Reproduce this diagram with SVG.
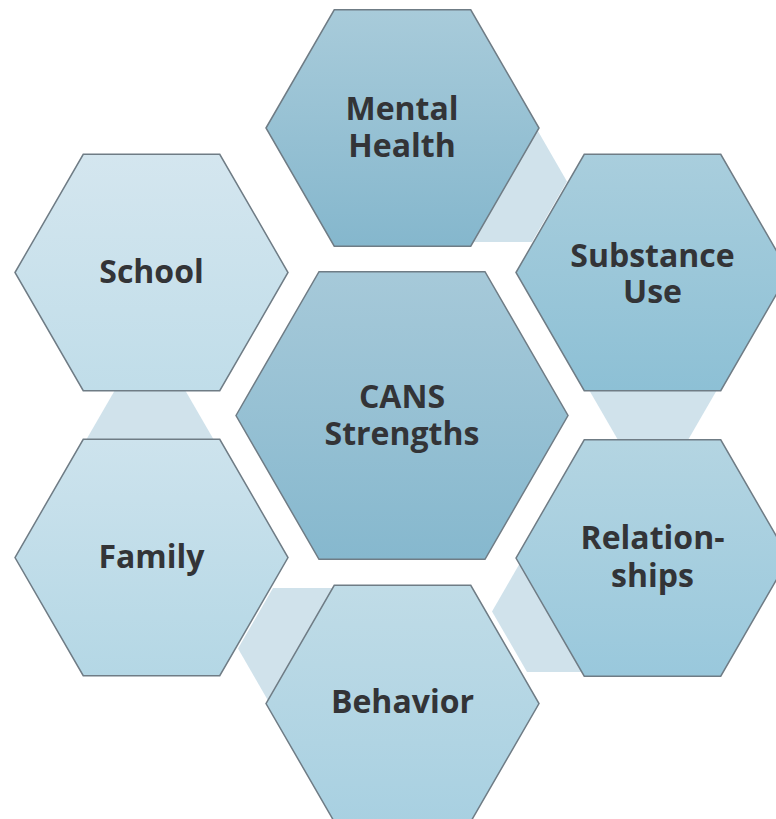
<svg xmlns="http://www.w3.org/2000/svg" width="776" height="819" viewBox="0 0 776 819">
  <defs>
    <linearGradient id="gMH" x1="0" y1="0" x2="0" y2="1"><stop offset="0" stop-color="#a8cbda"/><stop offset="1" stop-color="#85b7cd"/></linearGradient>
    <linearGradient id="gCANS" x1="0" y1="0" x2="0" y2="1"><stop offset="0" stop-color="#a6c9d9"/><stop offset="1" stop-color="#86b8ce"/></linearGradient>
    <linearGradient id="gSU" x1="0" y1="0" x2="0" y2="1"><stop offset="0" stop-color="#a9cedd"/><stop offset="1" stop-color="#8dc0d5"/></linearGradient>
    <linearGradient id="gRel" x1="0" y1="0" x2="0" y2="1"><stop offset="0" stop-color="#b4d5e2"/><stop offset="1" stop-color="#99c8dc"/></linearGradient>
    <linearGradient id="gBeh" x1="0" y1="0" x2="0" y2="1"><stop offset="0" stop-color="#c0dce7"/><stop offset="1" stop-color="#a8d0e1"/></linearGradient>
    <linearGradient id="gFam" x1="0" y1="0" x2="0" y2="1"><stop offset="0" stop-color="#cde3ed"/><stop offset="1" stop-color="#b4d7e5"/></linearGradient>
    <linearGradient id="gSch" x1="0" y1="0" x2="0" y2="1"><stop offset="0" stop-color="#d4e6ef"/><stop offset="1" stop-color="#c0dde9"/></linearGradient>
  </defs>
  <style>
    .hex { stroke: #6f7c85; stroke-width: 1.5; stroke-linejoin: miter; }
    .conn { fill: #d0e2eb; stroke: none; }
    .lbl { font-family: "Open Sans", Lato, "DejaVu Sans", sans-serif; font-weight: 700; font-size: 32px; fill: #333437; text-anchor: middle; }
  </style>
  <rect width="776" height="819" fill="#ffffff"/>
  <g id="connectors">
    <polygon class="conn" points="427,181.4 462,120.8 532,120.8 567,181.4 532,242 462,242"/>
    <polygon class="conn" points="583,379.4 618,318.8 688,318.8 723,379.4 688,440 618,440"/>
    <polygon class="conn" points="492,611.4 527,550.8 597,550.8 632,611.4 597,672 527,672"/>
    <polygon class="conn" points="238,648.6 273,588 343,588 378,648.6 343,709.2 273,709.2"/>
    <polygon class="conn" points="80,450.6 115,390 185,390 220,450.6 185,511.2 115,511.2"/>
  </g>
  <g id="mental-health">
    <polygon class="hex" fill="url(#gMH)" points="266,128 334.25,9.8 470.75,9.8 539,128 470.75,246.2 334.25,246.2"/>
    <text class="lbl" x="402" y="120"><tspan x="402">Mental</tspan><tspan x="402" dy="37">Health</tspan></text>
  </g>
  <g id="substance-use">
    <polygon class="hex" fill="url(#gSU)" points="516,272.5 584.25,154.3 720.75,154.3 789,272.5 720.75,390.7 584.25,390.7"/>
    <text class="lbl" x="652.5" y="267"><tspan x="652.5">Substance</tspan><tspan x="652.5" dy="36">Use</tspan></text>
  </g>
  <g id="relationships">
    <polygon class="hex" fill="url(#gRel)" points="516,558 584.25,439.8 720.75,439.8 789,558 720.75,676.2 584.25,676.2"/>
    <text class="lbl" x="652.5" y="549"><tspan x="652.5">Relation-</tspan><tspan x="652.5" dy="38">ships</tspan></text>
  </g>
  <g id="behavior">
    <polygon class="hex" fill="url(#gBeh)" points="266,703.5 334.25,585.3 470.75,585.3 539,703.5 470.75,821.7 334.25,821.7"/>
    <text class="lbl" x="402.5" y="713">Behavior</text>
  </g>
  <g id="family">
    <polygon class="hex" fill="url(#gFam)" points="15,557.5 83.25,439.3 219.75,439.3 288,557.5 219.75,675.7 83.25,675.7"/>
    <text class="lbl" x="151.5" y="568">Family</text>
  </g>
  <g id="school">
    <polygon class="hex" fill="url(#gSch)" points="15,272.5 83.25,154.3 219.75,154.3 288,272.5 219.75,390.7 83.25,390.7"/>
    <text class="lbl" x="151.5" y="283">School</text>
  </g>
  <g id="cans-strengths">
    <polygon class="hex" fill="url(#gCANS)" points="236,415.5 319,271.7 485,271.7 568,415.5 485,559.3 319,559.3"/>
    <text class="lbl" x="402" y="408"><tspan x="402">CANS</tspan><tspan x="402" dy="37">Strengths</tspan></text>
  </g>
</svg>
